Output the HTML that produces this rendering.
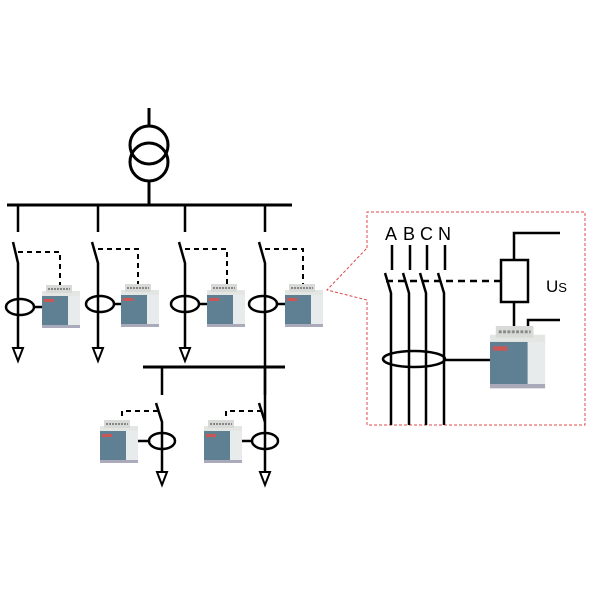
<!DOCTYPE html>
<html><head><style>body{margin:0;background:#fff}svg{display:block}</style></head><body>
<svg width="600" height="600" viewBox="0 0 600 600" xmlns="http://www.w3.org/2000/svg">
<defs>
<g id="dev">
<rect x="0" y="6" width="38" height="36" fill="#e4e6e4"/>
<rect x="4" y="0" width="26" height="8" fill="#d8dad8"/>
<line x1="6" y1="4" x2="28" y2="4" stroke="#888" stroke-width="2" stroke-dasharray="2 1"/>
<rect x="0" y="11" width="26" height="30" fill="#5f7f92"/>
<rect x="2" y="14" width="10" height="3" fill="#c55"/>
<rect x="26" y="11" width="12" height="30" fill="#e8ebec"/>
<rect x="0" y="40" width="38" height="3" fill="#aab"/>
</g>
<g id="arr"><polygon points="-5,0 5,0 0,13" fill="#fff" stroke="#000" stroke-width="2"/></g>
</defs>
<g stroke="#000" stroke-width="3" fill="none">
<line x1="149" y1="108" x2="149" y2="127"/>
<circle cx="149" cy="145" r="19"/>
<circle cx="149" cy="162" r="19"/>
<line x1="149" y1="181" x2="149" y2="205"/>
<line x1="7" y1="205" x2="292" y2="205"/>
<line x1="143" y1="367" x2="285" y2="367"/>
</g>
<g stroke="#000" stroke-width="2.5" fill="none">
<!-- branches -->
<path d="M18 205V232M13 242L18 263V348"/>
<path d="M98 205V232M92 242L98 263V348"/>
<path d="M185 205V232M179 242L185 263V348"/>
<path d="M265 205V232M259 242L265 263V480"/>
<path d="M162 367V395M156 403L162 422V472"/>
<path d="M265 367V395M259 403L265 422"/>
<ellipse cx="20" cy="307" rx="14" ry="8"/><line x1="34" y1="307" x2="42" y2="307"/>
<ellipse cx="100" cy="304" rx="14" ry="8"/><line x1="114" y1="304" x2="122" y2="304"/>
<ellipse cx="185" cy="304" rx="14" ry="8"/><line x1="199" y1="304" x2="207" y2="304"/>
<ellipse cx="263" cy="304" rx="14" ry="8"/><line x1="277" y1="304" x2="285" y2="304"/>
<ellipse cx="162" cy="441" rx="13" ry="8"/><line x1="138" y1="441" x2="149" y2="441"/>
<ellipse cx="265" cy="441" rx="13" ry="8"/><line x1="242" y1="441" x2="252" y2="441"/>
</g>
<g stroke="#000" stroke-width="2" fill="none" stroke-dasharray="5 4">
<path d="M18 252H60V285"/>
<path d="M98 249H138V284"/>
<path d="M185 249H227V284"/>
<path d="M265 249H303V284"/>
<path d="M158 411H122V422"/>
<path d="M262 411H226V422"/>
</g>
<use href="#arr" x="18" y="348"/><use href="#arr" x="98" y="348"/><use href="#arr" x="185" y="348"/>
<use href="#arr" x="162" y="472"/><use href="#arr" x="265" y="472"/>
<use href="#dev" x="42" y="285"/><use href="#dev" x="121" y="284"/><use href="#dev" x="207" y="284"/><use href="#dev" x="285" y="284"/>
<use href="#dev" x="100" y="420"/><use href="#dev" x="204" y="420"/>
<!-- inset -->
<path d="M367 248V212H585V425H367V300L327 290L367 248" fill="none" stroke="#e04848" stroke-width="1" stroke-dasharray="3 2"/>
<g font-family="Liberation Sans, sans-serif" font-size="18" fill="#000">
<text x="385" y="240">A</text><text x="403" y="240">B</text><text x="420" y="240">C</text><text x="438" y="240">N</text>
<text x="546" y="292" font-size="17">U<tspan font-size="13">S</tspan></text>
</g>
<g stroke="#000" stroke-width="2.5" fill="none">
<path d="M392 245V270M385 273L391 293V425"/>
<path d="M410 245V270M403 273L409 293V425"/>
<path d="M427 245V270M420 273L426 293V425"/>
<path d="M445 245V270M438 273L444 293V425"/>
<rect x="501" y="260" width="27" height="42"/>
<path d="M514 260V233H560M514 302V327M528 330V320H560"/>
<ellipse cx="414" cy="359" rx="31" ry="8"/>
<line x1="445" y1="360" x2="490" y2="360"/>
</g>
<path d="M386 281H501" stroke="#000" stroke-width="2.5" stroke-dasharray="7 5"/>
<g transform="translate(490,326) scale(1.45)"><use href="#dev"/></g>
</svg>
</body></html>
